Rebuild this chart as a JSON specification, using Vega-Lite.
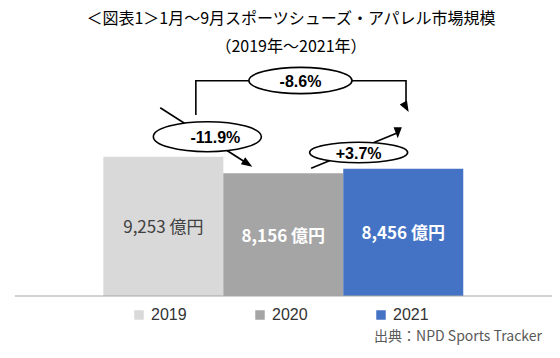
{
  "$schema": "https://vega.github.io/schema/vega-lite/v6.json",
  "width": 560,
  "height": 294,
  "autosize": {"type": "none"},
  "padding": {"left": 0, "right": 0, "top": 64, "bottom": 0},
  "background": "white",
  "config": {"view": {"stroke": null}, "font": "Noto Sans CJK JP"},
  "title": {
    "text": ["＜図表1＞1月～9月スポーツシューズ・アパレル市場規模", "（2019年～2021年）"],
    "font": "Noto Sans CJK JP",
    "fontSize": 16,
    "fontWeight": "normal",
    "color": "#000000",
    "anchor": "middle",
    "dx": 11,
    "offset": 9,
    "lineHeight": 28
  },
  "datasets": {
    "sales": [
      {"year": 2019, "value": 9253, "label": "9,253 億円"},
      {"year": 2020, "value": 8156, "label": "8,156 億円"},
      {"year": 2021, "value": 8456, "label": "8,456 億円"}
    ],
    "paths": [
      {"seg": "a", "ord": 1, "x": 2018.974, "y": 12520},
      {"seg": "a", "ord": 2, "x": 2019.703, "y": 8792},
      {"seg": "b", "ord": 1, "x": 2019.271, "y": 12035},
      {"seg": "b", "ord": 2, "x": 2019.271, "y": 14315},
      {"seg": "b", "ord": 3, "x": 2021.023, "y": 14315},
      {"seg": "b", "ord": 4, "x": 2021.023, "y": 12553},
      {"seg": "c", "ord": 1, "x": 2020.232, "y": 8491},
      {"seg": "c", "ord": 2, "x": 2020.954, "y": 10854}
    ],
    "heads": [
      {"seg": "a", "x": 2019.703, "y": 8792},
      {"seg": "b", "x": 2021.023, "y": 12553},
      {"seg": "c", "x": 2020.954, "y": 10854}
    ],
    "notes": [
      {"label": "-11.9%", "x": 2019.367, "y": 10592},
      {"label": "-8.6%", "x": 2020.143, "y": 14328},
      {"label": "+3.7%", "x": 2020.628, "y": 9541}
    ],
    "source": [
      {"x": 2022.156, "y": -2706, "text": "出典：NPD Sports Tracker"}
    ]
  },
  "layer": [
    {
      "data": {"name": "sales"},
      "mark": {"type": "bar", "width": 120},
      "encoding": {
        "x": {"field": "year", "type": "quantitative", "scale": {"domain": [2017.68, 2022.265], "nice": false, "zero": false}, "axis": null},
        "y": {"field": "value", "type": "quantitative", "scale": {"domain": [-4122, 15426], "nice": false}, "axis": null},
        "y2": {"datum": 0},
        "color": {
          "field": "year",
          "type": "nominal",
          "scale": {"domain": [2019, 2020, 2021], "range": ["#d9d9d9", "#a5a5a5", "#4472c4"]},
          "legend": {
            "title": null,
            "orient": "none",
            "legendX": 131,
            "legendY": 243,
            "direction": "horizontal",
            "symbolType": "square",
            "symbolSize": 90,
            "symbolStrokeWidth": 0,
            "labelFontSize": 16,
            "labelFont": "Liberation Sans",
            "labelColor": "#333333",
            "labelOffset": 4,
            "columnPadding": 65,
            "padding": 0
          }
        }
      }
    },
    {
      "data": {"name": "sales"},
      "transform": [{"filter": "datum.year == 2019"}, {"calculate": "datum.value / 2", "as": "mid"}],
      "mark": {"type": "text", "fontSize": 17, "color": "#404040", "baseline": "middle", "dy": 2},
      "encoding": {
        "x": {"field": "year", "type": "quantitative"},
        "y": {"field": "mid", "type": "quantitative"},
        "text": {"field": "label"}
      }
    },
    {
      "data": {"name": "sales"},
      "transform": [{"filter": "datum.year != 2019"}, {"calculate": "datum.value / 2", "as": "mid"}],
      "mark": {"type": "text", "fontSize": 17, "fontWeight": "bold", "color": "#ffffff", "baseline": "middle", "dy": 2},
      "encoding": {
        "x": {"field": "year", "type": "quantitative"},
        "y": {"field": "mid", "type": "quantitative"},
        "text": {"field": "label"}
      }
    },
    {
      "mark": {"type": "rule", "color": "#a6a6a6", "strokeWidth": 1.2},
      "encoding": {
        "x": {"datum": 2017.762, "type": "quantitative"},
        "x2": {"datum": 2022.24},
        "y": {"datum": 0, "type": "quantitative"}
      }
    },
    {
      "data": {"name": "paths"},
      "mark": {"type": "line", "color": "#000000", "strokeWidth": 1.6, "strokeCap": "butt"},
      "encoding": {
        "x": {"field": "x", "type": "quantitative"},
        "y": {"field": "y", "type": "quantitative"},
        "detail": {"field": "seg"},
        "order": {"field": "ord"}
      }
    },
    {
      "data": {"name": "heads"},
      "mark": {"type": "point", "shape": "M 0 -1 L 0.75 1 L -0.75 1 Z", "filled": true, "color": "#000000", "opacity": 1, "size": 121, "strokeWidth": 0},
      "encoding": {
        "x": {"field": "x", "type": "quantitative"},
        "y": {"field": "y", "type": "quantitative"},
        "angle": {"field": "seg", "type": "nominal", "scale": {"domain": ["a", "b", "c"], "range": [122, 180, 68]}, "legend": null}
      }
    },
    {
      "data": {"name": "notes"},
      "mark": {"type": "point", "fill": "#ffffff", "fillOpacity": 1, "stroke": "#000000", "strokeWidth": 1.6, "opacity": 1},
      "encoding": {
        "x": {"field": "x", "type": "quantitative"},
        "y": {"field": "y", "type": "quantitative"},
        "shape": {
          "field": "label",
          "type": "nominal",
          "scale": {
            "domain": ["-11.9%", "-8.6%", "+3.7%"],
            "range": [
              "M -1 0 C -1 -0.1535 -0.5523 -0.278 0 -0.278 C 0.5523 -0.278 1 -0.1535 1 0 C 1 0.1535 0.5523 0.278 0 0.278 C -0.5523 0.278 -1 0.1535 -1 0 Z",
              "M -1 0 C -1 -0.1408 -0.5523 -0.255 0 -0.255 C 0.5523 -0.255 1 -0.1408 1 0 C 1 0.1408 0.5523 0.255 0 0.255 C -0.5523 0.255 -1 0.1408 -1 0 Z",
              "M -1 0 C -1 -0.116 -0.5523 -0.21 0 -0.21 C 0.5523 -0.21 1 -0.116 1 0 C 1 0.116 0.5523 0.21 0 0.21 C -0.5523 0.21 -1 0.116 -1 0 Z"
            ]
          },
          "legend": null
        },
        "size": {
          "field": "label",
          "type": "nominal",
          "scale": {"domain": ["-11.9%", "-8.6%", "+3.7%"], "range": [11664, 9604, 11236]},
          "legend": null
        }
      }
    },
    {
      "data": {"name": "notes"},
      "transform": [{"filter": "datum.label == '-11.9%'"}],
      "mark": {"type": "text", "font": "Liberation Sans", "fontSize": 16, "fontWeight": "bold", "color": "#000000", "baseline": "middle", "dx": 8, "dy": 1},
      "encoding": {
        "x": {"field": "x", "type": "quantitative"},
        "y": {"field": "y", "type": "quantitative"},
        "text": {"field": "label"}
      }
    },
    {
      "data": {"name": "notes"},
      "transform": [{"filter": "datum.label != '-11.9%'"}],
      "mark": {"type": "text", "font": "Liberation Sans", "fontSize": 16, "fontWeight": "bold", "color": "#000000", "baseline": "middle", "dy": 1},
      "encoding": {
        "x": {"field": "x", "type": "quantitative"},
        "y": {"field": "y", "type": "quantitative"},
        "text": {"field": "label"}
      }
    },
    {
      "data": {"name": "source"},
      "mark": {"type": "text", "fontSize": 14, "color": "#595959", "align": "right", "baseline": "middle"},
      "encoding": {
        "x": {"field": "x", "type": "quantitative"},
        "y": {"field": "y", "type": "quantitative"},
        "text": {"field": "text"}
      }
    }
  ]
}
